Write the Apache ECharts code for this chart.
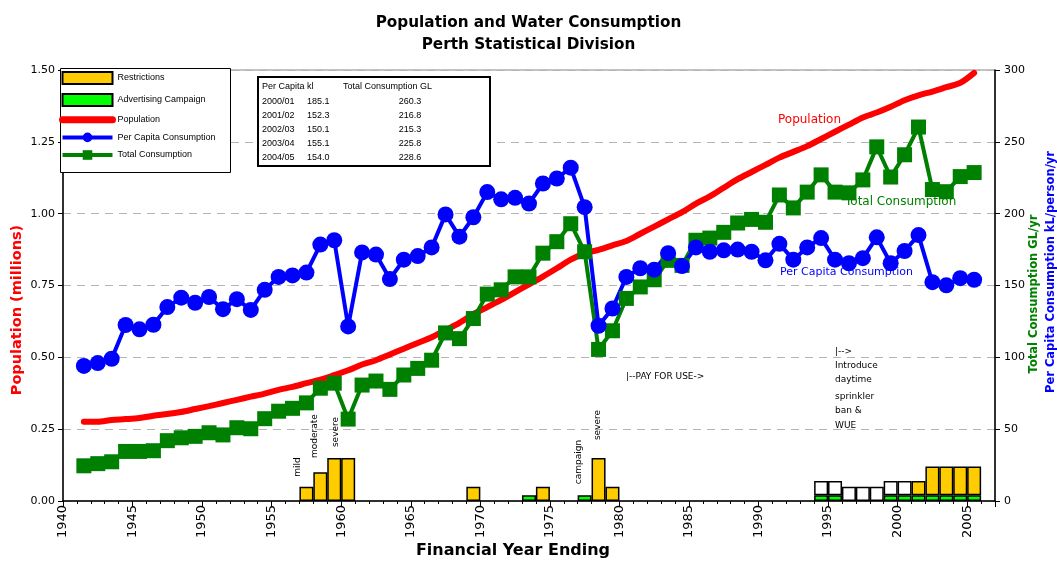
<!DOCTYPE html>
<html>
<head>
<meta charset="utf-8">
<script src="https://cdn.jsdelivr.net/npm/echarts@6/dist/echarts.min.js"></script>
<style>
  html, body { margin: 0; padding: 0; background: #fff; }
  #chart { width: 1057px; height: 561px; }
</style>
</head>
<body>
<div id="chart"></div>
<script>
// financial year ending, 1941 .. 2005
const years = [];
for (let y = 1941; y <= 2005; y++) years.push(y);

// one slot per year across the whole axis (1940 .. 2006) for the bars
const slots = [];
for (let y = 1940; y <= 2006; y++) slots.push(y);

// population, millions
const population = [
  0.276, 0.276, 0.282, 0.285, 0.289, 0.297, 0.303, 0.31, 0.32, 0.33,
  0.341, 0.352, 0.363, 0.374, 0.387, 0.397, 0.41, 0.422, 0.438, 0.455,
  0.475, 0.49, 0.51, 0.53, 0.55, 0.57, 0.595, 0.62, 0.65, 0.675,
  0.70, 0.727, 0.754, 0.781, 0.81, 0.84, 0.862, 0.874, 0.89, 0.905,
  0.93, 0.955, 0.98, 1.005, 1.035, 1.06, 1.09, 1.12, 1.145, 1.17,
  1.195, 1.215, 1.235, 1.26, 1.285, 1.31, 1.335, 1.352, 1.372, 1.395,
  1.412, 1.425, 1.44, 1.455, 1.49
];

// per capita consumption, kL/person/yr
const perCapita = [
  94, 96, 99, 122.5, 119.5, 122.7, 135, 141.5, 138, 142,
  133.5, 140.5, 133, 147, 156, 157, 159, 178.5, 181.5, 121.5,
  173, 171.5, 154.5, 168, 170.5, 176.5, 199.5, 184, 197.5, 215,
  210, 211, 207, 221, 224.5, 232, 204.5, 122, 134, 156,
  162, 161, 172.5, 163.5, 176.5, 173.5, 174.5, 175, 173.5, 167.5,
  179, 168, 176.5, 183, 168, 165.5, 169, 183.5, 165.5, 174,
  185.1, 152.3, 150.1, 155.1, 154.0
];

// total consumption, GL/yr
const totalCons = [
  24.5, 26, 27.3, 34.5, 34.5, 35, 42, 44, 45, 47.5,
  46, 51, 50.3, 57.3, 62.5, 64.5, 68.3, 78.5, 82, 57,
  80.7, 83.5, 77.7, 87.7, 92.3, 98, 117, 113, 127, 144,
  147, 156, 156, 172.5, 180.5, 193, 173.5, 105.5, 118.5, 141,
  149, 154, 167.5, 164, 181.5, 183, 187, 193.5, 196, 194,
  213, 204, 215, 227, 215, 214.5, 223.5, 246.5, 225.5, 241,
  260.3, 216.8, 215.3, 225.8, 228.6
];

// bars on the right axis: [year, height]
const restrictions = [
  [1957, 10], [1958, 20], [1959, 30], [1960, 30], [1969, 10], [1974, 10],
  [1978, 30], [1979, 10], [2001, 10], [2002, 20], [2003, 20], [2004, 20], [2005, 20]
];
const advertising = [
  [1973, 4], [1977, 4], [1994, 4], [1995, 4], [1999, 4], [2000, 4],
  [2001, 4], [2002, 4], [2003, 4], [2004, 4], [2005, 4]
];
const sprinklerBan = [
  [1994, 10], [1995, 10], [1996, 10], [1997, 10], [1998, 10], [1999, 10], [2000, 10]
];

// inset table
const tableYears = ['2000/01', '2001/02', '2002/03', '2003/04', '2004/05'];
const tablePerCapita = ['185.1', '152.3', '150.1', '155.1', '154.0'];
const tableTotal = ['260.3', '216.8', '215.3', '225.8', '228.6'];

const FONT = '"DejaVu Sans", Verdana, sans-serif';
const SMALL = '"Liberation Sans", Arial, sans-serif';

// points sit in the middle of each year slot
const lineData = arr => years.map((y, i) => [y + 0.5, arr[i]]);
const barData = list => slots.map(y => {
  const hit = list.find(d => d[0] === y);
  return hit ? hit[1] : null;
});

const chart = echarts.init(document.getElementById('chart'));

const barBorder = { borderColor: '#000', borderWidth: 1.5 };

const graphic = [
  // legend frame
  { type: 'rect', left: 60, top: 68, z: 3,
    shape: { width: 170, height: 104 },
    style: { fill: '#fff', stroke: '#000', lineWidth: 1 } },
  // table frame
  { type: 'rect', left: 257, top: 76, z: 3,
    shape: { width: 232, height: 89 },
    style: { fill: '#fff', stroke: '#000', lineWidth: 2 } },
  { type: 'text', x: 262, y: 87, z: 4,
    style: { text: 'Per Capita kl', font: '9px ' + SMALL, fill: '#000', verticalAlign: 'middle' } },
  { type: 'text', x: 343, y: 87, z: 4,
    style: { text: 'Total Consumption GL', font: '9px ' + SMALL, fill: '#000', verticalAlign: 'middle' } }
];
tableYears.forEach((t, i) => {
  const yy = 101.5 + i * 14;
  graphic.push(
    { type: 'text', x: 262, y: yy, z: 4, style: { text: t, font: '9px ' + SMALL, fill: '#000', verticalAlign: 'middle' } },
    { type: 'text', x: 307, y: yy, z: 4, style: { text: tablePerCapita[i], font: '9px ' + SMALL, fill: '#000', verticalAlign: 'middle' } },
    { type: 'text', x: 410, y: yy, z: 4, style: { text: tableTotal[i], font: '9px ' + SMALL, fill: '#000', align: 'center', verticalAlign: 'middle' } }
  );
});

// axis titles
graphic.push(
  { type: 'text', x: 17, y: 310, rotation: Math.PI / 2,
    style: { text: 'Population (millions)', font: 'bold 14.5px ' + FONT, fill: '#ff0000', align: 'center', verticalAlign: 'middle' } },
  { type: 'text', x: 1034, y: 294, rotation: Math.PI / 2,
    style: { text: 'Total Consumption GL/yr', font: 'bold 11.5px ' + FONT, fill: '#008000', align: 'center', verticalAlign: 'middle' } },
  { type: 'text', x: 1051, y: 272, rotation: Math.PI / 2,
    style: { text: 'Per Capita Consumption kL/person/yr', font: 'bold 11.5px ' + FONT, fill: '#0000ff', align: 'center', verticalAlign: 'middle' } },
  { type: 'text', x: 513, y: 551,
    style: { text: 'Financial Year Ending', font: 'bold 16px ' + FONT, fill: '#000', align: 'center', verticalAlign: 'middle' } }
);

// series labels
graphic.push(
  { type: 'text', x: 778, y: 120, z: 1,
    style: { text: 'Population', font: '12px ' + FONT, fill: '#ff0000', verticalAlign: 'middle' } },
  { type: 'text', x: 845, y: 202, z: 1,
    style: { text: 'Total Consumption', font: '12px ' + FONT, fill: '#008000', verticalAlign: 'middle' } },
  { type: 'text', x: 780, y: 272, z: 1,
    style: { text: 'Per Capita Consumption', font: '11px ' + FONT, fill: '#0000ff', verticalAlign: 'middle' } }
);

// annotations
const note = (text, x, y, rot) => ({
  type: 'text', x: x, y: y, rotation: rot ? Math.PI / 2 : 0, z: 1,
  style: { text: text, font: '9px ' + FONT, fill: '#000',
    align: rot ? 'center' : 'left', verticalAlign: 'middle' }
});
graphic.push(
  note('mild', 298, 467, true),
  note('moderate', 315, 436, true),
  note('severe', 336, 432, true),
  note('campaign', 579, 462, true),
  note('severe', 598, 425, true),
  note('|--PAY FOR USE->', 626, 377),
  note('|-->', 835, 352),
  note('Introduce', 835, 366),
  note('daytime', 835, 380),
  note('sprinkler', 835, 397),
  note('ban &', 835, 411),
  note('WUE', 835, 426)
);

const option = {
  backgroundColor: '#fff',
  animation: false,
  title: {
    text: 'Population and Water Consumption\nPerth Statistical Division',
    left: 'center',
    top: 7,
    textStyle: { fontFamily: FONT, fontSize: 15.25, fontWeight: 'bold', color: '#000', lineHeight: 22 }
  },
  legend: {
    orient: 'vertical',
    left: 59,
    top: 71,
    padding: 0,
    itemWidth: 50,
    itemHeight: 12,
    itemGap: 8,
    selectedMode: false,
    z: 5,
    textStyle: { fontFamily: SMALL, fontSize: 9, color: '#000' },
    data: [
      { name: 'Restrictions', icon: 'rect' },
      { name: 'Advertising Campaign', icon: 'rect' },
      { name: 'Population', lineStyle: { width: 7 }, itemStyle: { opacity: 0 } },
      { name: 'Per Capita Consumption', lineStyle: { width: 4 } },
      { name: 'Total Consumption', lineStyle: { width: 4 } }
    ]
  },
  grid: { left: 63, right: 62, top: 70, bottom: 60, show: true, borderColor: '#888', borderWidth: 1 },
  xAxis: [
    {
      type: 'value',
      min: 1940,
      max: 2007,
      interval: 5,
      axisLine: { lineStyle: { color: '#000', width: 1.5 } },
      axisTick: { length: 6, lineStyle: { color: '#000' } },
      minorTick: { show: true, splitNumber: 5, length: 3, lineStyle: { color: '#000' } },
      splitLine: { show: false },
      axisLabel: {
        rotate: 90,
        margin: 4,
        fontSize: 13,
        fontFamily: FONT,
        color: '#000',
        formatter: v => (v % 5 === 0 ? String(v) : '')
      }
    },
    {
      // hidden slot axis so the stacked bars fill each year
      type: 'category',
      data: slots,
      boundaryGap: true,
      show: false
    }
  ],
  yAxis: [
    {
      type: 'value',
      position: 'left',
      min: 0,
      max: 1.5,
      interval: 0.25,
      axisLine: { show: true, lineStyle: { color: '#000', width: 1.5 } },
      axisTick: { show: true, length: 5, lineStyle: { color: '#000' } },
      axisLabel: { formatter: v => v.toFixed(2), fontSize: 11, fontFamily: FONT, color: '#000', margin: 8 },
      splitLine: { show: true, lineStyle: { color: '#b4b4b4', type: [8, 6], width: 1 } }
    },
    {
      type: 'value',
      position: 'right',
      min: 0,
      max: 300,
      interval: 50,
      axisLine: { show: true, lineStyle: { color: '#000', width: 1.5 } },
      axisTick: { show: true, length: 5, lineStyle: { color: '#000' } },
      axisLabel: { fontSize: 11, fontFamily: FONT, color: '#000', margin: 9 },
      splitLine: { show: false }
    }
  ],
  series: [
    {
      name: 'Advertising Campaign',
      type: 'bar',
      xAxisIndex: 1,
      yAxisIndex: 1,
      stack: 'notes',
      barWidth: 14,
      itemStyle: Object.assign({ color: '#00ff00' }, barBorder),
      data: barData(advertising)
    },
    {
      name: 'Sprinkler Ban',
      type: 'bar',
      xAxisIndex: 1,
      yAxisIndex: 1,
      stack: 'notes',
      barWidth: 14,
      itemStyle: Object.assign({ color: '#ffffff' }, barBorder),
      data: barData(sprinklerBan)
    },
    {
      name: 'Restrictions',
      type: 'bar',
      xAxisIndex: 1,
      yAxisIndex: 1,
      stack: 'notes',
      barWidth: 14,
      itemStyle: Object.assign({ color: '#ffcc00' }, barBorder),
      data: barData(restrictions)
    },
    {
      name: 'Population',
      type: 'line',
      yAxisIndex: 0,
      symbol: 'none',
      smooth: 0.3,
      lineStyle: { color: '#ff0000', width: 6, cap: 'round' },
      itemStyle: { color: '#ff0000' },
      data: lineData(population)
    },
    {
      name: 'Total Consumption',
      type: 'line',
      yAxisIndex: 1,
      symbol: 'rect',
      symbolSize: 15,
      lineStyle: { color: '#008000', width: 4 },
      itemStyle: { color: '#008000' },
      data: lineData(totalCons)
    },
    {
      name: 'Per Capita Consumption',
      type: 'line',
      yAxisIndex: 1,
      symbol: 'circle',
      symbolSize: 16,
      lineStyle: { color: '#0000ff', width: 4 },
      itemStyle: { color: '#0000ff' },
      data: lineData(perCapita)
    }
  ],
  graphic: graphic
};

chart.setOption(option);
</script>
</body>
</html>
